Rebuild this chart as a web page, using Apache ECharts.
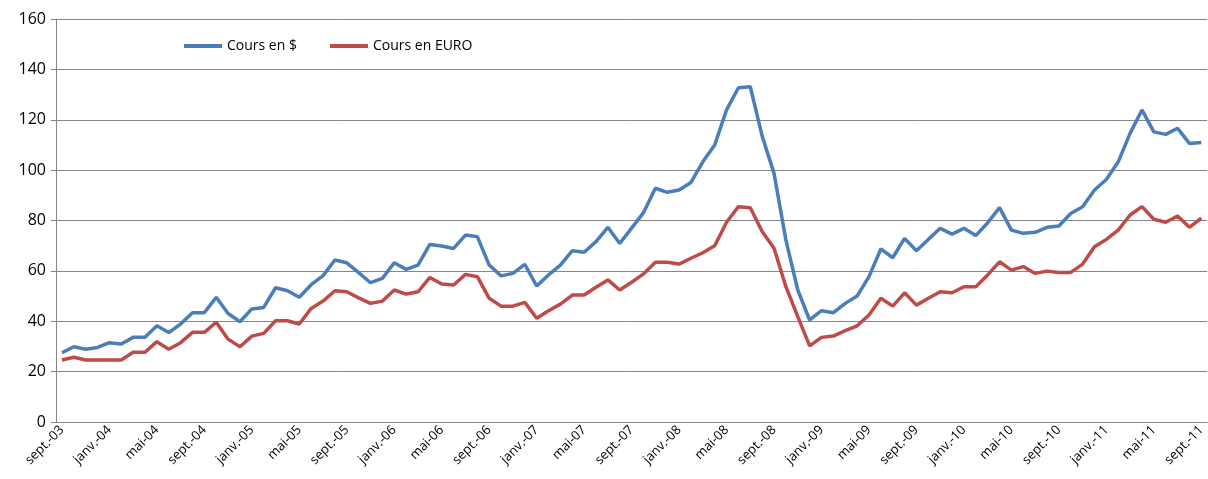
<!DOCTYPE html>
<html>
<head>
<meta charset="utf-8">
<script src="https://cdn.jsdelivr.net/npm/echarts@6/dist/echarts.min.js"></script>
<style>
  html, body { margin: 0; padding: 0; background: #fff; }
  #chart { width: 1208px; height: 479px; }
</style>
</head>
<body>
<div id="chart"></div>
<script>
// mois (libellés Excel) et années, de sept.-03 à sept.-11
var moisNoms = ['janv.', 'févr.', 'mars', 'avr.', 'mai', 'juin', 'juil.', 'août', 'sept.', 'oct.', 'nov.', 'déc.'];
var annees = ['03', '04', '05', '06', '07', '08', '09', '10', '11'];

// cours en $
var coursDollar = [
  27.5, 29.9, 28.9, 29.6, 31.5, 31.0, 33.6, 33.6, 38.2, 35.5, 38.9, 43.4,
  43.4, 49.5, 43.1, 39.8, 44.9, 45.5, 53.3, 52.1, 49.5, 54.5, 58.1, 64.3,
  63.2, 59.3, 55.3, 57.0, 63.2, 60.6, 62.3, 70.5, 69.9, 68.9, 74.2, 73.6,
  62.3, 58.0, 59.0, 62.6, 54.0, 58.4, 62.3, 68.0, 67.4, 71.6, 77.3, 70.9,
  77.0, 83.1, 92.8, 91.2, 92.1, 95.1, 103.3, 110.0, 123.9, 132.7, 133.1, 113.5,
  98.7, 72.2, 52.4, 40.5, 44.2, 43.4, 47.1, 50.0, 57.7, 68.7, 65.2, 72.9,
  68.0, 72.5, 76.9, 74.6, 76.9, 74.0, 79.1, 85.1, 76.2, 74.9, 75.3, 77.3,
  77.8, 82.8, 85.5, 92.1, 96.3, 103.3, 114.6, 123.9, 115.2, 114.2, 116.6, 110.6,
  111.0
];

// cours en EURO
var coursEuro = [
  24.6, 25.7, 24.6, 24.6, 24.6, 24.6, 27.7, 27.7, 31.9, 28.9, 31.5, 35.6,
  35.6, 39.6, 32.9, 29.9, 34.1, 35.2, 40.2, 40.2, 38.9, 45.1, 48.0, 52.1,
  51.7, 49.3, 47.1, 48.0, 52.4, 50.8, 51.7, 57.4, 54.8, 54.4, 58.6, 57.7,
  49.1, 46.0, 46.0, 47.5, 41.2, 44.2, 46.8, 50.4, 50.4, 53.5, 56.4, 52.4,
  55.5, 58.8, 63.4, 63.4, 62.7, 65.0, 67.2, 70.0, 79.3, 85.5, 85.1, 75.6,
  69.0, 53.7, 41.8, 30.2, 33.6, 34.1, 36.3, 38.2, 42.5, 49.1, 46.0, 51.3,
  46.4, 49.1, 51.7, 51.3, 53.7, 53.7, 58.4, 63.6, 60.3, 61.7, 59.0, 59.9,
  59.4, 59.4, 62.7, 69.6, 72.5, 76.2, 82.2, 85.5, 80.5, 79.3, 81.8, 77.3,
  80.9
];

// catégories : sept.-03 ... sept.-11
var mois = [];
for (var a = 0; a < annees.length; a++) {
  for (var m = 0; m < 12; m++) {
    if (a === 0 && m < 8) continue;
    if (a === annees.length - 1 && m > 8) continue;
    mois.push(moisNoms[m] + '-' + annees[a]);
  }
}

var police = '"Open Sans", "DejaVu Sans", sans-serif';
var chart = echarts.init(document.getElementById('chart'));
chart.setOption({
  animation: false,
  backgroundColor: '#ffffff',
  grid: {
    left: 56,
    top: 19,
    width: 1155,
    height: 403
  },
  legend: {
    left: 184,
    top: 39,
    padding: 0,
    icon: 'rect',
    itemWidth: 38,
    itemHeight: 4,
    itemGap: 33,
    textStyle: { fontFamily: police, fontSize: 14, color: '#000' },
    data: ['Cours en $', 'Cours en EURO']
  },
  xAxis: {
    type: 'category',
    data: mois,
    boundaryGap: true,
    axisLine: { lineStyle: { color: '#868686', width: 1 } },
    axisTick: { interval: 3, length: 5, lineStyle: { color: '#868686' } },
    axisLabel: {
      interval: 3,
      rotate: 45,
      margin: 6,
      fontFamily: police,
      fontSize: 13,
      color: '#000'
    },
    splitLine: { show: false }
  },
  yAxis: {
    type: 'value',
    min: 0,
    max: 160,
    interval: 20,
    axisLine: { show: true, lineStyle: { color: '#868686', width: 1 } },
    axisTick: { show: true, length: 5, lineStyle: { color: '#868686' } },
    axisLabel: { margin: 10, fontFamily: police, fontSize: 16, color: '#000' },
    splitLine: { lineStyle: { color: '#868686', width: 1 } }
  },
  series: [{
    name: 'Cours en $',
    type: 'line',
    data: coursDollar,
    showSymbol: false,
    symbol: 'none',
    lineStyle: { color: '#4A7EBB', width: 3.5 },
    itemStyle: { color: '#4A7EBB' }
  }, {
    name: 'Cours en EURO',
    type: 'line',
    data: coursEuro,
    showSymbol: false,
    symbol: 'none',
    lineStyle: { color: '#BE4B48', width: 3.5 },
    itemStyle: { color: '#BE4B48' }
  }]
});
</script>
</body>
</html>
